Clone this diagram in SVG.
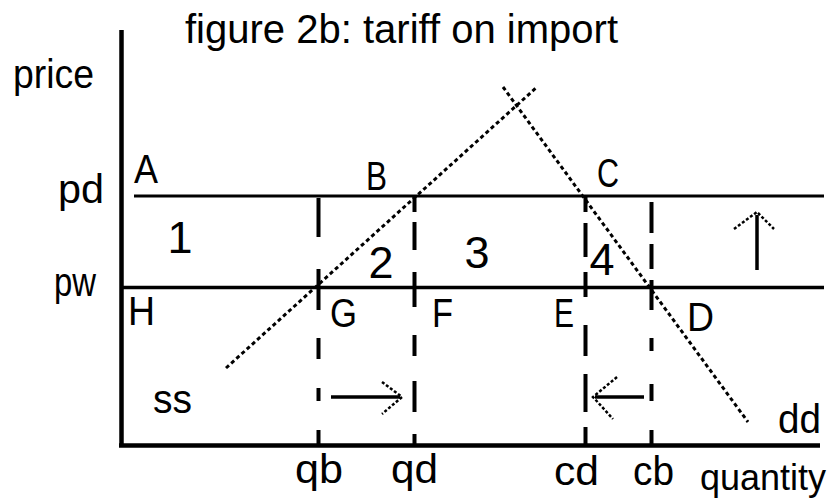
<svg xmlns="http://www.w3.org/2000/svg" width="835" height="504" viewBox="0 0 835 504">
<style>
text{font-family:"Liberation Sans",Arial,sans-serif;font-size:40px;fill:#000}
.m{text-anchor:middle}
.dg{font-size:45px}
.qt{font-size:36px}
.ax{stroke:#000;stroke-width:4.5;fill:none}
.h{stroke:#000;stroke-width:3;fill:none}
.v{stroke:#000;stroke-width:4;fill:none}
.dot{stroke:#000;stroke-width:3;stroke-dasharray:4 3;fill:none}
.ar{stroke:#000;stroke-width:3.5;fill:none}
.hd{stroke:#000;stroke-width:2.5;stroke-dasharray:3 2;fill:none}
</style>
<rect width="835" height="504" fill="#fff"/>
<g id="title"><text x="185" y="43" textLength="433" lengthAdjust="spacingAndGlyphs">figure 2b: tariff on import</text></g>
<g id="axes">
<path class="ax" d="M121.5 30V447M119 445.5H820"/>
<text x="13" y="88" textLength="81" lengthAdjust="spacingAndGlyphs">price</text>
<text class="qt" x="700" y="490">quantity</text>
</g>
<g id="connectors">
<path class="h" d="M134 196H824"/>
<path class="ax" style="stroke-width:3.5" d="M122 287.5H824"/>
<path class="v" d="M318.5 198V237M318.5 269V310M318.5 338V359M318.5 388V401M318.5 430V444"/>
<path class="v" d="M414.5 196V212M414.5 222V250M414.5 272V307M414.5 335V356M414.5 381V412M414.5 434V444"/>
<path class="v" d="M585.5 196V212M585.5 223V257M585.5 272V297M585.5 325V356M585.5 374V412M585.5 427V444"/>
<path class="v" d="M651.5 202V233M651.5 244V269M651.5 280V310M651.5 338V351M651.5 384V401M651.5 430V444"/>
<path class="dot" d="M226 368L537 87"/>
<path class="dot" d="M503 87L748 422"/>
<path class="ar" d="M331 397H400"/>
<path class="hd" d="M382 382L402 397L382 414"/>
<path class="ar" d="M595 397H644"/>
<path class="hd" d="M617 377L593 397L613 419"/>
<path class="ar" d="M757 270V215"/>
<path class="hd" d="M734 229L757 212L774 229"/>
</g>
<g id="n-pd"><text x="58" y="203" textLength="46" lengthAdjust="spacingAndGlyphs">pd</text></g>
<g id="n-pw"><text x="54" y="296" textLength="42" lengthAdjust="spacingAndGlyphs">pw</text></g>
<g id="n-A"><text x="134" y="183" textLength="24" lengthAdjust="spacingAndGlyphs">A</text></g>
<g id="n-B"><text x="366" y="190" textLength="21" lengthAdjust="spacingAndGlyphs">B</text></g>
<g id="n-C"><text x="597" y="187" textLength="22" lengthAdjust="spacingAndGlyphs">C</text></g>
<g id="n-H"><text x="128" y="325" textLength="27" lengthAdjust="spacingAndGlyphs">H</text></g>
<g id="n-G"><text x="330" y="327" textLength="27" lengthAdjust="spacingAndGlyphs">G</text></g>
<g id="n-F"><text x="432" y="327" textLength="21" lengthAdjust="spacingAndGlyphs">F</text></g>
<g id="n-E"><text x="554" y="327" textLength="20" lengthAdjust="spacingAndGlyphs">E</text></g>
<g id="n-D"><text x="687" y="331" textLength="27" lengthAdjust="spacingAndGlyphs">D</text></g>
<g id="n-1"><text class="m dg" x="180" y="253">1</text></g>
<g id="n-2"><text class="m dg" x="381" y="278">2</text></g>
<g id="n-3"><text class="m dg" x="477" y="268">3</text></g>
<g id="n-4"><text class="m dg" x="602" y="275">4</text></g>
<g id="n-ss"><text x="153" y="413" textLength="39" lengthAdjust="spacingAndGlyphs">ss</text></g>
<g id="n-dd"><text x="778" y="433" textLength="43" lengthAdjust="spacingAndGlyphs">dd</text></g>
<g id="n-qb"><text x="295" y="483" textLength="48" lengthAdjust="spacingAndGlyphs">qb</text></g>
<g id="n-qd"><text x="391" y="483" textLength="47" lengthAdjust="spacingAndGlyphs">qd</text></g>
<g id="n-cd"><text x="554" y="485" textLength="45" lengthAdjust="spacingAndGlyphs">cd</text></g>
<g id="n-cb"><text x="633" y="485" textLength="41" lengthAdjust="spacingAndGlyphs">cb</text></g>
</svg>
